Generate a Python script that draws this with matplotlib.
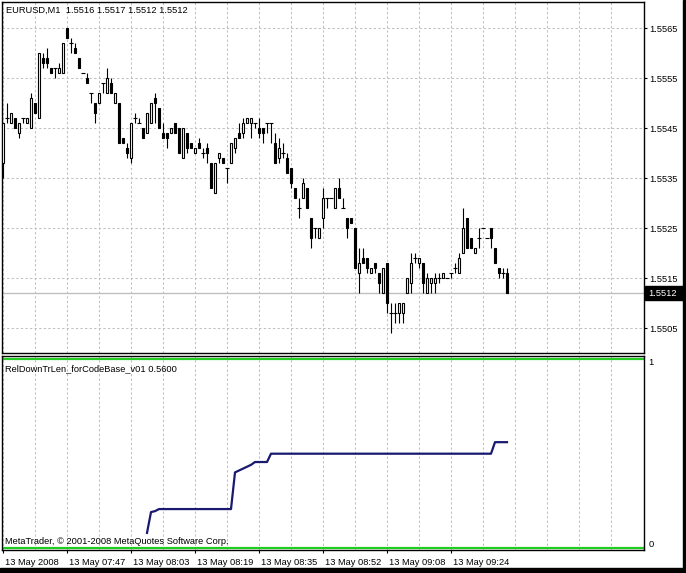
import matplotlib
matplotlib.use('Agg')
import matplotlib.pyplot as plt
import matplotlib.patches as patches
import numpy as np

plt.rcParams['font.family'] = ['Liberation Sans', 'DejaVu Sans']

W, H = 686, 573

# EURUSD M1 candles, in pips above 1.5500
opens = [38, 47, 46, 47, 44, 47, 46, 45, 50, 47, 59, 59, 57, 57, 56, 56, 65, 62, 61, 59,
         56, 55, 52, 50, 50, 54, 52, 54, 50, 50, 43, 41, 39, 47, 46, 45, 44, 46, 51, 49,
         44, 44, 44, 46, 45, 39, 44, 42, 40, 42, 40, 41, 38, 32, 39, 39, 37, 38, 41, 44,
         44, 46, 46, 46, 45, 45, 46, 46, 42, 39, 40, 39, 37, 33, 29, 31, 33, 27, 25, 23,
         27, 31, 31, 29, 33, 29, 27, 27, 25, 16, 19, 19, 16, 18, 16, 12, 18, 8, 8, 8,
         8, 12, 14, 19, 18, 18, 12, 14, 14, 15, 15, 15, 16, 17, 16, 20, 27, 23, 20, 23,
         25, 23, 25, 21, 17, 16, 16]
highs = [46, 50, 48, 47, 46, 47, 47, 52, 50, 60, 60, 61, 57, 57, 58, 62, 65, 63, 62, 59,
         56, 56, 52, 50, 52, 54, 57, 55, 52, 50, 43, 42, 46, 48, 47, 45, 48, 50, 52, 49,
         46, 44, 45, 46, 45, 45, 44, 42, 41, 43, 41, 42, 38, 38, 40, 39, 37, 42, 43, 46,
         47, 47, 47, 46, 47, 45, 46, 46, 44, 43, 42, 40, 37, 33, 31, 35, 33, 27, 25, 25,
         33, 31, 31, 33, 35, 31, 27, 27, 25, 21, 21, 19, 17, 18, 16, 17, 18, 10, 10, 10,
         10, 15, 20, 20, 19, 18, 16, 15, 16, 16, 16, 15, 16, 18, 20, 29, 27, 23, 21, 25,
         25, 23, 25, 21, 17, 17, 17]
lows = [35, 46, 46, 45, 43, 46, 46, 45, 48, 47, 57, 57, 56, 55, 56, 56, 63, 60, 60, 57,
        56, 54, 50, 46, 50, 52, 52, 52, 50, 42, 42, 39, 38, 46, 46, 43, 44, 46, 46, 45,
        43, 41, 44, 44, 40, 39, 40, 41, 40, 41, 39, 38, 33, 32, 38, 38, 34, 38, 40, 43,
        43, 46, 43, 45, 43, 42, 44, 42, 38, 38, 39, 36, 33, 31, 27, 31, 29, 21, 23, 23,
        25, 29, 31, 29, 31, 29, 23, 26, 17, 12, 18, 16, 16, 16, 12, 12, 8, 4, 6, 6,
        6, 12, 12, 18, 17, 12, 12, 12, 12, 14, 15, 15, 15, 16, 16, 20, 21, 21, 20, 21,
        25, 23, 21, 18, 15, 15, 12]
closes = [46, 47, 48, 45, 46, 47, 47, 51, 48, 60, 58, 58, 56, 57, 57, 62, 63, 62, 60, 57,
          56, 54, 52, 48, 52, 54, 55, 52, 52, 42, 42, 40, 46, 47, 46, 43, 48, 50, 50, 45,
          43, 43, 45, 44, 40, 45, 41, 41, 41, 41, 40, 40, 33, 38, 40, 38, 37, 42, 43, 43,
          46, 47, 47, 46, 44, 44, 46, 46, 38, 41, 40, 36, 34, 31, 29, 34, 29, 23, 25, 25,
          31, 31, 31, 33, 31, 29, 25, 26, 17, 18, 18, 17, 17, 17, 14, 17, 10, 8, 8, 10,
          10, 15, 18, 19, 19, 14, 15, 15, 15, 15, 16, 15, 16, 17, 19, 25, 21, 21, 21, 23,
          25, 23, 23, 18, 16, 16, 12]

# RelDownTrLen indicator, starts at bar 36
nan = float('nan')
indicator = [nan] * 36 + [
    0.08, 0.19, 0.195, 0.206, 0.206, 0.206, 0.206, 0.206, 0.206, 0.206,
    0.206, 0.206, 0.206, 0.206, 0.206, 0.206, 0.206, 0.206, 0.206, 0.206,
    0.206, 0.206, 0.40, 0.41, 0.42, 0.43, 0.44, 0.455, 0.455, 0.455,
    0.455, 0.499, 0.499, 0.499, 0.499, 0.499, 0.499, 0.499, 0.499, 0.499,
    0.499, 0.499, 0.499, 0.499, 0.499, 0.499, 0.499, 0.499, 0.499, 0.499,
    0.499, 0.499, 0.499, 0.499, 0.499, 0.499, 0.499, 0.499, 0.499, 0.499,
    0.499, 0.499, 0.499, 0.499, 0.499, 0.499, 0.499, 0.499, 0.499, 0.499,
    0.499, 0.499, 0.499, 0.499, 0.499, 0.499, 0.499, 0.499, 0.499, 0.499,
    0.499, 0.499, 0.499, 0.499, 0.499, 0.499, 0.499, 0.56, 0.56, 0.56, 0.56]

price_ticks = [1.5505, 1.5515, 1.5525, 1.5535, 1.5545, 1.5555, 1.5565]
time_pos = [0, 16, 32, 48, 64, 80, 96, 112]
time_labels = ['13 May 2008', '13 May 07:47', '13 May 08:03', '13 May 08:19',
               '13 May 08:35', '13 May 08:52', '13 May 09:08', '13 May 09:24']
last_price = 1.5512


def box(x0, y0, x1, y1):
    return [x0 / W, 1 - y1 / H, (x1 - x0) / W, (y1 - y0) / H]


o = 1.55 + np.array(opens) / 10000
h = 1.55 + np.array(highs) / 10000
l = 1.55 + np.array(lows) / 10000
c = 1.55 + np.array(closes) / 10000
x = np.arange(len(o))

fig = plt.figure(figsize=(W / 100, H / 100), dpi=100)
fig.patch.set_facecolor('white')
ax = fig.add_axes(box(2, 2, 644, 353))
ax2 = fig.add_axes(box(2, 356, 644, 550))

grid_kw = dict(color='#c0c0c0', lw=0.75, ls=(0, (2.2, 2.2)), zorder=0)
for a in (ax, ax2):
    for g in range(0, 160, 8):
        a.axvline(g, **grid_kw)
    a.set_xlim(-0.25, 160.25)
    for s in a.spines.values():
        s.set_color('black')
        s.set_linewidth(1)
    a.set_xticks([])

# main price panel
for lvl in price_ticks:
    ax.axhline(lvl, **grid_kw)
ax.axhline(last_price, color='#c0c0c0', lw=1, zorder=1)

ax.vlines(x, l, h, color='black', lw=0.8, zorder=2)
doji = o == c
bull = (c > o)
bear = (c < o)
ax.bar(x[bull], (c - o)[bull], bottom=o[bull], width=0.5, color='white',
       edgecolor='black', lw=0.8, zorder=3)
ax.bar(x[bear], (o - c)[bear], bottom=c[bear], width=0.5, color='black',
       edgecolor='black', lw=0.8, zorder=3)
ax.hlines(o[doji], x[doji] - 0.4, x[doji] + 0.4, color='black', lw=0.8, zorder=3)

ax.set_ylim(1.5500, 1.55702)
ax.yaxis.tick_right()
ax.set_yticks(price_ticks)
ax.set_yticklabels(['%.4f' % p for p in price_ticks], fontsize=6.7)
ax.tick_params(axis='y', length=2.2, width=0.8, pad=1.5, colors='black')

ax.text(0.006, 0.975, 'EURUSD,M1  1.5516 1.5517 1.5512 1.5512', transform=ax.transAxes,
        fontsize=6.7, va='center', ha='left')

# current price box
fig.patches.append(patches.Rectangle((645 / W, 1 - 300 / H), 38 / W, 14 / H,
                                     transform=fig.transFigure, color='black'))
fig.text(648 / W, 1 - 293 / H, '1.5512', color='white', fontsize=6.7,
         va='center', ha='left')

# indicator panel
ax2.plot(x, indicator, color='#191970', lw=1.6, zorder=3)
ax2.axhline(1, color='#22cc22', lw=1.6, zorder=2)
ax2.axhline(0, color='#22cc22', lw=1.6, zorder=2)
ax2.set_ylim(-0.0106, 1.016)
ax2.set_yticks([])
ax2.text(1.007, 0.968, '1', transform=ax2.transAxes, fontsize=6.7, va='center', ha='left')
ax2.text(1.007, 0.028, '0', transform=ax2.transAxes, fontsize=6.7, va='center', ha='left')
ax2.text(0.005, 0.935, 'RelDownTrLen_forCodeBase_v01 0.5600', transform=ax2.transAxes,
         fontsize=6.7, va='center', ha='left')
ax2.text(0.005, 0.02, 'MetaTrader, \u00a9 2001-2008 MetaQuotes Software Corp.',
         transform=ax2.transAxes, fontsize=6.7, va='bottom', ha='left')

# time axis
ax2.set_xticks(time_pos)
ax2.set_xticklabels([])
ax2.tick_params(axis='x', length=2.2, width=0.8, direction='out')
for pos, lab in zip(time_pos, time_labels):
    ax2.text(pos + 0.5, -0.062, lab, transform=ax2.get_xaxis_transform(),
             fontsize=6.7, va='center', ha='left')

# black window frame at right and bottom
fig.patches.append(patches.Rectangle((683 / W, 0), 3 / W, 1,
                                     transform=fig.transFigure, color='black'))
fig.patches.append(patches.Rectangle((0, 0), 1, 5 / H,
                                     transform=fig.transFigure, color='black'))

fig.savefig('out.png', dpi=100)
